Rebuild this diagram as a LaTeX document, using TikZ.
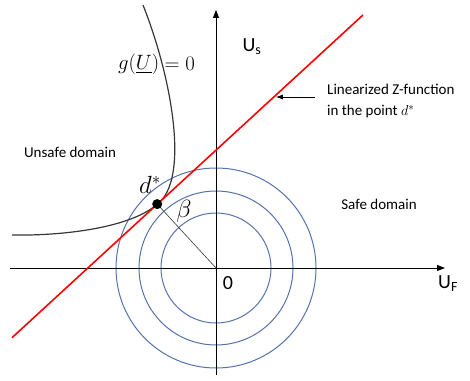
\documentclass[tikz,border=0pt]{standalone}
\usepackage{amsmath}
\usepackage{fontspec}
\setmainfont{Carlito}
\usepackage{tikz}
\usetikzlibrary{arrows.meta,calc,positioning}
\definecolor{circblue}{RGB}{84,115,172}
\definecolor{limitgray}{RGB}{55,55,55}

\begin{document}
\begin{tikzpicture}[
  x=1pt, y=1pt,
  font=\fontsize{15}{21}\selectfont,
  axis/.style={-{Triangle[length=8pt,width=6pt]}, line width=0.9pt},
  contour/.style={draw=circblue, line width=1pt},
  design/.style={draw=red, line width=1.6pt},
  limit/.style={draw=limitgray, line width=1.2pt},
  note/.style={align=left, inner sep=0pt},
  bigtxt/.style={font=\fontsize{20}{22}\selectfont, inner sep=0pt},
  mathtxt/.style={font=\fontsize{24}{26}\selectfont, inner sep=0pt}
]
\useasboundingbox (-216,-112) rectangle (254,268);

% standard normal contours
\foreach \r in {55,77,100}
  \draw[contour] (0,0) circle (\r);

% axes
\coordinate (xl) at (-206,0);
\coordinate (xr) at (229,0);
\coordinate (yb) at (0,-107);
\coordinate (yt) at (0,258);
\draw[axis] (xl) -- (xr);
\draw[axis] (yb) -- (yt);
\node[bigtxt, anchor=west] (uf) at (222,-16) {U\textsubscript{F}};
\node[bigtxt] (us) at (36,221) {U\textsubscript{s}};
\node[bigtxt] (zero) at (12,-15) {0};

% limit state surface
\coordinate (g0) at (-73,263);
\coordinate (dstar) at (-58.8,63.9);
\coordinate (g1) at (-204,33);
\draw[limit] (g0) .. controls (-44,190) and (-26,88) .. (dstar)
  .. controls (-84,41) and (-150,32) .. (g1);
\node[bigtxt, anchor=east] (glabel) at (-56.5,204) {$g(\underline{U})$};
\node[bigtxt, anchor=west] (gzero) at (-51.5,204) {$=0$};

% linearized limit state
\coordinate (r0) at (-204,-69.7);
\coordinate (r1) at (147,253);
\draw[design] (r0) -- (r1);

% design point and reliability index
\coordinate (origin) at (0,0);
\draw[line width=0.6pt, draw=limitgray] (dstar) -- (origin);
\fill (dstar) circle (5);
\node[mathtxt] (dlabel) at (-66,83) {$d^{*}$};
\node[mathtxt] (beta) at (-32,57) {$\beta$};

% domains
\node (unsafe) at (-146,116) {Unsafe domain};
\node (safe) at (163,64) {Safe domain};

% annotation
\node[note, anchor=north west] (lin) at (111,184) {Linearized Z-function\\in the point $d^{*}$};
\coordinate (tip) at (59.8,171);
\draw[-{Latex[length=7pt,width=5pt]}, line width=0.8pt] (99,171) -- (tip);
\end{tikzpicture}
\end{document}
